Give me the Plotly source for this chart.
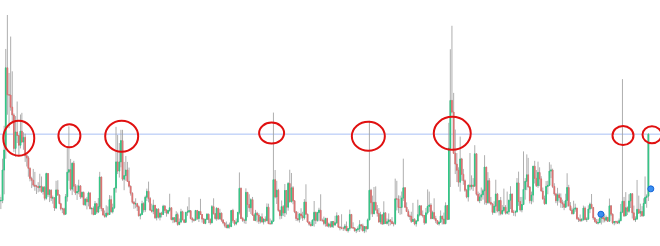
import pandas as pd
import plotly.graph_objects as go

# Half-month VIX-style candles, Aug 2008 .. early Apr 2025
month_starts = pd.date_range("2008-08-01", "2025-04-01", freq="MS")
periods = [d + pd.Timedelta(days=k) for d in month_starts for k in (7, 22)][:-1]

open_ = [
    22.9, 20.5, 20.7, 32.0, 39.8, 69.9, 59.9, 59.8, 55.3, 52.4,
    40.0, 46.1, 44.8, 41.2, 46.4, 42.4, 44.1, 37.3, 36.5, 32.6, 28.9, 28.2, 26.4, 26.0, 25.9, 25.5, 26.0, 24.0, 25.6, 21.5, 30.7, 22.9, 24.5, 21.6,
    21.7, 17.9, 24.6, 22.7, 19.5, 17.6, 17.6, 15.6, 22.1, 31.2, 32.1, 24.9, 34.5, 26.0, 23.5, 24.0, 26.1, 22.0, 23.7, 19.1, 21.2, 20.2, 23.5, 17.6,
    17.8, 15.5, 19.5, 16.4, 18.4, 29.4, 17.7, 15.3, 14.8, 16.0, 15.5, 21.0, 16.5, 18.0, 25.3, 35.0, 31.6, 35.0, 42.9, 28.6, 29.9, 32.0, 27.8, 26.0,
    23.4, 20.0, 19.4, 19.5, 18.4, 15.0, 15.5, 19.5, 17.2, 21.9, 24.1, 21.4, 17.1, 16.7, 18.9, 14.3, 17.5, 14.5, 16.0, 15.5, 18.6, 17.0, 16.0, 17.0,
    18.0, 13.6, 14.3, 12.8, 15.5, 11.8, 12.7, 16.5, 13.5, 12.6, 16.3, 16.5, 16.9, 14.0, 13.5, 13.4, 17.0, 14.0, 16.6, 15.5, 13.8, 12.2, 13.7, 15.6,
    13.7, 12.4, 18.4, 15.8, 14.0, 17.8, 13.9, 16.0, 13.4, 12.4, 11.4, 10.6, 11.6, 11.0, 17.0, 13.2, 12.0, 12.7, 16.3, 25.2, 14.0, 13.3, 13.3, 23.7,
    19.2, 18.0, 21.0, 15.3, 13.3, 16.0, 15.3, 13.0, 14.6, 12.7, 13.8, 13.2, 18.2, 12.1, 12.1, 13.0, 28.4, 22.0, 24.5, 17.0, 15.1, 18.4, 16.1, 24.4,
    18.2, 27.0, 20.2, 25.4, 20.6, 16.5, 14.0, 13.6, 15.7, 15.0, 14.2, 20.1, 15.6, 12.7, 11.9, 11.4, 13.4, 16.3, 13.3, 16.2, 17.1, 13.3, 13.3, 12.2,
    14.0, 11.2, 12.0, 11.0, 12.9, 11.6, 12.4, 15.0, 10.8, 10.6, 10.4, 10.4, 11.2, 9.5, 10.3, 15.5, 10.6, 10.5, 9.5, 9.9, 10.2, 11.7, 11.3, 9.4,
    11.0, 10.2, 13.5, 24.5, 19.9, 15.8, 20.0, 17.2, 15.9, 12.7, 15.4, 12.0, 16.1, 12.2, 12.8, 13.5, 12.9, 12.1, 12.1, 21.3, 21.2, 18.1, 18.1, 21.6,
    25.4, 18.2, 16.6, 14.9, 14.8, 12.9, 13.7, 12.0, 13.1, 15.4, 18.7, 15.3, 15.1, 12.4, 16.1, 18.5, 19.0, 14.0, 16.2, 14.0, 13.2, 12.0, 12.6, 14.9,
    13.8, 12.1, 18.8, 13.7, 40.1, 57.8, 53.5, 38.2, 34.2, 31.9, 27.5, 36.1, 30.4, 28.0, 24.5, 22.0, 26.4, 25.8, 26.4, 26.0, 38.0, 23.0, 20.6, 22.0,
    22.8, 24.3, 33.1, 19.9, 28.0, 20.0, 19.4, 16.3, 18.6, 23.1, 16.8, 20.7, 15.8, 17.0, 18.2, 16.0, 16.5, 20.8, 23.1, 16.3, 16.3, 16.5, 27.2, 20.3,
    17.2, 19.2, 24.8, 27.8, 30.2, 25.7, 20.6, 22.7, 33.4, 28.9, 26.2, 31.1, 28.7, 24.2, 21.3, 19.5, 25.9, 26.3, 31.6, 32.0, 25.9, 23.1, 20.6, 22.8,
    21.7, 19.9, 19.4, 18.2, 20.7, 25.5, 18.7, 17.1, 15.8, 17.5, 17.9, 14.0, 13.6, 13.3, 13.6, 17.9, 13.6, 13.8, 17.5, 19.3, 18.1, 14.2, 12.9, 12.3,
    12.5, 14.1, 14.4, 14.0, 13.4, 14.4, 13.0, 18.7, 15.6, 12.4, 12.9, 12.7, 12.4, 13.2, 16.4, 20.4, 15.0, 18.0, 16.7, 20.5, 23.2, 16.1, 13.5, 13.8,
    17.4, 16.0, 16.6, 15.0, 19.6, 21.8, 22.3,
]
high = [
    24.0, 22.0, 36.2, 48.4, 76.9, 89.5, 68.0, 81.5, 68.6, 53.0,
    52.0, 57.4, 45.0, 52.6, 53.2, 46.0, 45.5, 38.0, 37.2, 33.0, 29.5, 32.4, 31.3, 26.5, 27.5, 30.6, 29.6, 26.0, 26.0, 31.0, 30.8, 24.9, 24.8, 22.5,
    21.8, 28.0, 28.2, 23.0, 19.8, 18.0, 18.0, 23.1, 40.7, 48.2, 36.1, 34.8, 35.4, 26.8, 26.5, 28.4, 26.4, 24.0, 24.0, 21.5, 22.0, 24.0, 23.6, 18.0,
    18.5, 20.5, 19.8, 21.6, 31.3, 29.5, 17.8, 17.0, 18.9, 18.5, 22.7, 22.5, 19.5, 25.3, 48.0, 45.0, 42.0, 46.9, 46.9, 35.0, 37.2, 35.0, 32.9, 26.2,
    23.7, 20.5, 21.5, 19.8, 18.9, 16.0, 20.6, 20.0, 22.5, 25.1, 27.7, 22.0, 19.5, 21.0, 19.0, 17.8, 17.8, 16.2, 16.5, 19.1, 19.0, 17.5, 17.2, 23.2,
    18.0, 14.4, 14.5, 16.7, 16.2, 14.0, 17.6, 16.9, 13.6, 16.3, 18.5, 21.9, 17.0, 14.5, 14.0, 17.1, 17.1, 16.8, 21.3, 15.6, 14.2, 13.8, 16.0, 15.8,
    14.0, 19.0, 21.5, 16.0, 18.2, 17.9, 17.6, 16.2, 13.8, 12.5, 12.9, 12.0, 12.5, 17.1, 17.6, 13.4, 14.0, 16.3, 31.1, 25.5, 14.6, 13.9, 25.2, 23.8,
    23.0, 21.5, 22.0, 15.6, 17.2, 16.5, 16.0, 14.8, 15.9, 14.0, 14.8, 19.6, 19.5, 14.0, 13.5, 53.3, 32.0, 28.0, 25.0, 17.3, 20.7, 19.0, 26.8, 24.5,
    27.5, 32.1, 30.9, 26.0, 20.6, 16.8, 16.5, 16.0, 17.8, 16.5, 21.2, 26.7, 15.8, 13.0, 12.8, 13.7, 20.5, 16.5, 16.5, 18.0, 23.0, 14.0, 14.7, 14.3,
    14.3, 12.5, 13.0, 13.0, 13.0, 15.0, 16.3, 15.2, 11.2, 15.6, 11.0, 12.0, 12.9, 10.5, 17.3, 15.7, 12.6, 10.6, 10.2, 11.1, 13.4, 12.0, 12.1, 11.2,
    11.0, 14.0, 50.3, 25.0, 22.5, 25.7, 25.9, 19.0, 17.9, 16.5, 15.5, 20.4, 16.2, 14.0, 15.9, 13.7, 14.5, 12.8, 28.8, 28.0, 22.6, 22.5, 24.0, 36.2,
    25.6, 20.0, 17.4, 15.5, 16.5, 19.8, 14.1, 13.4, 21.0, 18.9, 18.9, 17.0, 15.3, 17.9, 24.8, 24.0, 19.7, 16.9, 21.5, 15.0, 13.3, 13.0, 17.0, 15.0,
    16.2, 20.0, 19.0, 49.5, 76.8, 85.5, 60.6, 47.0, 38.3, 33.0, 44.4, 36.5, 32.4, 28.5, 25.0, 26.5, 38.3, 30.0, 29.0, 41.2, 38.2, 24.0, 23.5, 25.5,
    25.0, 37.5, 33.1, 31.2, 29.0, 22.0, 19.8, 20.4, 28.4, 23.5, 20.7, 22.0, 19.0, 25.1, 19.0, 24.0, 20.9, 26.0, 23.2, 17.2, 17.0, 29.0, 31.4, 22.0,
    22.0, 38.9, 29.0, 37.8, 36.5, 26.0, 24.0, 33.5, 35.4, 32.0, 35.1, 33.0, 29.7, 25.5, 22.5, 27.9, 28.0, 34.9, 34.0, 32.5, 27.1, 23.5, 25.4, 23.5,
    23.3, 21.0, 20.5, 23.2, 30.8, 26.5, 20.1, 18.0, 20.6, 19.5, 17.9, 14.5, 15.5, 14.2, 18.8, 18.5, 14.5, 18.9, 19.9, 23.1, 18.2, 14.5, 13.8, 13.8,
    15.0, 14.8, 16.2, 15.8, 15.1, 14.5, 21.4, 19.0, 15.9, 13.0, 13.2, 13.2, 14.0, 19.4, 65.7, 22.0, 23.8, 18.5, 23.0, 23.3, 23.3, 18.8, 14.8, 28.3,
    22.5, 19.5, 18.6, 21.5, 29.6, 23.0, 45.6,
]
low = [
    19.0, 17.5, 19.7, 23.0, 36.2, 52.5, 47.5, 54.0, 50.0, 38.7,
    36.9, 42.0, 37.5, 40.0, 42.0, 39.5, 35.0, 33.3, 29.5, 27.8, 25.3, 25.8, 24.3, 23.1, 23.7, 24.0, 23.5, 22.9, 20.7, 21.0, 22.0, 20.1, 20.5, 19.5,
    16.8, 17.5, 22.5, 19.5, 17.0, 16.0, 15.2, 15.5, 20.3, 28.0, 24.3, 22.7, 24.0, 22.7, 20.9, 23.0, 21.3, 21.5, 19.0, 18.6, 17.4, 18.5, 17.5, 15.5,
    15.2, 15.5, 15.7, 16.0, 17.5, 16.7, 15.2, 14.3, 14.3, 15.0, 15.3, 16.2, 15.9, 17.5, 23.6, 30.5, 29.2, 33.0, 28.0, 24.5, 28.0, 27.6, 25.5, 22.5,
    19.5, 17.6, 17.8, 16.8, 14.8, 13.7, 15.4, 16.2, 16.4, 20.5, 20.0, 17.0, 16.2, 15.6, 13.9, 13.3, 14.0, 13.3, 14.4, 15.3, 16.0, 14.7, 15.6, 16.5,
    13.4, 12.3, 12.5, 12.8, 11.3, 11.5, 12.3, 13.4, 12.3, 12.4, 15.0, 16.0, 13.7, 12.5, 12.9, 13.3, 13.5, 12.7, 15.3, 12.5, 12.0, 11.9, 13.5, 12.3,
    11.7, 12.3, 15.5, 13.6, 13.2, 13.5, 13.7, 12.8, 11.9, 10.7, 10.5, 10.3, 10.3, 10.9, 12.4, 11.4, 11.5, 12.5, 15.5, 14.0, 12.7, 12.2, 12.0, 14.5,
    16.5, 15.7, 15.0, 13.2, 13.0, 12.6, 12.0, 12.2, 12.6, 11.8, 12.6, 13.0, 12.0, 11.8, 11.8, 12.8, 21.5, 19.4, 16.5, 13.7, 13.9, 14.9, 14.6, 15.5,
    16.9, 20.0, 20.0, 19.3, 16.0, 13.1, 13.0, 12.5, 14.0, 13.1, 13.6, 15.5, 12.5, 11.3, 11.0, 11.2, 11.0, 12.0, 12.8, 13.0, 13.0, 12.7, 11.5, 11.0,
    11.0, 10.6, 10.6, 10.6, 10.6, 11.2, 12.0, 10.6, 9.6, 10.0, 9.4, 9.6, 9.5, 8.8, 9.5, 10.4, 10.2, 9.1, 8.6, 9.1, 9.0, 9.6, 9.3, 8.6,
    8.9, 10.0, 13.4, 15.5, 14.6, 15.6, 17.0, 14.7, 12.5, 11.9, 11.6, 11.9, 12.0, 11.8, 11.2, 11.5, 12.0, 11.1, 11.6, 17.0, 16.0, 15.4, 15.6, 20.5,
    18.0, 16.5, 14.5, 13.5, 12.4, 12.8, 11.5, 11.0, 12.9, 14.8, 15.0, 14.4, 11.7, 12.0, 15.5, 16.5, 13.7, 13.8, 13.5, 12.3, 11.7, 11.4, 12.5, 11.8,
    11.8, 11.9, 13.4, 13.5, 25.7, 53.0, 38.0, 30.5, 27.5, 25.8, 24.0, 28.0, 26.5, 23.9, 21.5, 20.3, 24.4, 24.8, 24.2, 25.8, 22.5, 20.4, 19.7, 20.5,
    21.0, 19.2, 19.0, 19.5, 19.5, 18.9, 15.4, 16.0, 16.0, 16.3, 15.1, 15.2, 15.4, 16.5, 15.5, 15.6, 15.4, 17.5, 16.3, 15.0, 14.8, 16.2, 18.7, 16.6,
    16.3, 19.0, 21.0, 24.5, 25.5, 19.6, 19.3, 20.0, 27.0, 25.7, 25.4, 26.0, 24.0, 21.0, 19.1, 19.3, 23.0, 26.0, 29.0, 25.3, 22.5, 19.7, 18.8, 19.9,
    18.0, 17.9, 17.1, 18.0, 18.4, 18.5, 17.0, 15.5, 15.6, 16.5, 13.5, 12.7, 12.7, 12.8, 13.2, 13.4, 12.7, 13.5, 16.0, 17.5, 13.5, 12.5, 12.0, 11.8,
    12.3, 11.8, 12.5, 12.6, 13.0, 12.7, 12.9, 14.9, 11.9, 11.5, 11.9, 12.0, 11.9, 13.0, 16.0, 14.6, 15.0, 15.3, 16.1, 17.9, 14.0, 13.4, 12.7, 13.7,
    15.8, 14.6, 14.7, 14.8, 19.5, 18.0, 20.5,
]
close = [
    20.5, 20.7, 32.0, 39.4, 69.9, 59.9, 59.8, 55.3, 52.4, 40.0,
    46.1, 44.8, 41.2, 46.4, 42.4, 44.1, 37.3, 36.5, 32.6, 28.9, 28.2, 26.4, 26.0, 25.9, 25.5, 26.0, 24.0, 25.6, 21.5, 30.7, 22.9, 24.5, 21.6, 21.7,
    17.9, 24.6, 22.7, 19.5, 17.6, 17.6, 15.6, 22.1, 31.2, 32.1, 24.9, 34.5, 26.0, 23.5, 24.0, 26.1, 22.0, 23.7, 19.1, 21.2, 20.2, 23.5, 17.6, 17.8,
    15.5, 19.5, 16.4, 18.4, 29.4, 17.7, 15.3, 14.8, 16.0, 15.5, 21.0, 16.5, 18.0, 25.3, 35.0, 31.6, 35.0, 42.9, 28.6, 29.9, 32.0, 27.8, 26.0, 23.4,
    20.0, 19.4, 19.5, 18.4, 15.0, 15.5, 19.5, 17.2, 21.9, 24.1, 21.4, 17.1, 16.7, 18.9, 14.3, 17.5, 14.5, 16.0, 15.5, 18.6, 17.0, 16.0, 17.0, 18.0,
    13.6, 14.3, 12.8, 15.5, 11.8, 12.7, 16.5, 13.5, 12.6, 16.3, 16.5, 16.9, 14.0, 13.5, 13.4, 17.0, 14.0, 16.6, 15.5, 13.8, 12.2, 13.7, 15.6, 13.7,
    12.4, 18.4, 15.8, 14.0, 17.8, 13.9, 16.0, 13.4, 12.4, 11.4, 10.6, 11.6, 11.0, 17.0, 13.2, 12.0, 12.7, 16.3, 25.2, 14.0, 13.3, 13.3, 23.7, 19.2,
    18.0, 21.0, 15.3, 13.3, 16.0, 15.3, 13.0, 14.6, 12.7, 13.8, 13.2, 18.2, 12.1, 12.1, 13.0, 28.4, 22.0, 24.5, 17.0, 15.1, 18.4, 16.1, 24.4, 18.2,
    27.0, 20.2, 25.4, 20.6, 16.5, 14.0, 13.6, 15.7, 15.0, 14.2, 20.1, 15.6, 12.7, 11.9, 11.4, 13.4, 16.3, 13.3, 16.2, 17.1, 13.3, 13.3, 12.2, 14.0,
    11.2, 12.0, 11.0, 12.9, 11.6, 12.4, 15.0, 10.8, 10.6, 10.4, 10.4, 11.2, 9.5, 10.3, 15.5, 10.6, 10.5, 9.5, 9.9, 10.2, 11.7, 11.3, 9.4, 11.0,
    10.2, 13.5, 24.5, 19.9, 15.8, 20.0, 17.2, 15.9, 12.7, 15.4, 12.0, 16.1, 12.2, 12.8, 13.5, 12.9, 12.1, 12.1, 21.3, 21.2, 18.1, 18.1, 21.6, 25.4,
    18.2, 16.6, 14.9, 14.8, 12.9, 13.7, 12.0, 13.1, 15.4, 18.7, 15.3, 15.1, 12.4, 16.1, 18.5, 19.0, 14.0, 16.2, 14.0, 13.2, 12.0, 12.6, 14.9, 13.8,
    12.1, 18.8, 13.7, 40.1, 57.8, 53.5, 38.2, 34.2, 31.9, 27.5, 36.1, 30.4, 28.0, 24.5, 22.0, 26.4, 25.8, 26.4, 26.0, 38.0, 23.0, 20.6, 22.0, 22.8,
    24.3, 33.1, 19.9, 28.0, 20.0, 19.4, 16.3, 18.6, 23.1, 16.8, 20.7, 15.8, 17.0, 18.2, 16.0, 16.5, 20.8, 23.1, 16.3, 16.3, 16.5, 27.2, 20.3, 17.2,
    19.2, 24.8, 27.8, 30.2, 25.7, 20.6, 22.7, 33.4, 28.9, 26.2, 31.1, 28.7, 24.2, 21.3, 19.5, 25.9, 26.3, 31.6, 32.0, 25.9, 23.1, 20.6, 22.8, 21.7,
    19.9, 19.4, 18.2, 20.7, 25.5, 18.7, 17.1, 15.8, 17.5, 17.9, 14.0, 13.6, 13.3, 13.6, 17.9, 13.6, 13.8, 17.5, 19.3, 18.1, 14.2, 12.9, 12.3, 12.5,
    14.1, 14.4, 14.0, 13.4, 14.4, 13.0, 18.7, 15.6, 12.4, 12.9, 12.7, 12.4, 13.2, 16.4, 20.4, 15.0, 18.0, 16.7, 20.5, 23.2, 16.1, 13.5, 13.8, 17.4,
    16.0, 16.6, 15.0, 19.6, 21.8, 22.3, 45.3,
]

threshold_level = 45.3

circle_dates = ["2009-02-07", "2010-05-28", "2011-09-30", "2015-08-06",
                "2018-01-29", "2020-03-26", "2024-08-13", "2025-05-12"]
circle_levels = [43.8, 44.7, 44.5, 45.7, 44.5, 45.6, 44.8, 45.1]

dot_dates = ["2024-01-19", "2025-05-01"]
dot_values = [15.6, 25.0]

# circle sizes in pixels (style)
circle_w = [31, 22, 33, 25, 33, 37, 21, 19]
circle_h = [35, 23, 31, 21, 29, 33, 19, 17]

body_hi = [max(o, c) for o, c in zip(open_, close)]
body_lo = [min(o, c) for o, c in zip(open_, close)]

fig = go.Figure()
# wicks (grey)
fig.add_trace(go.Candlestick(
    x=periods, open=open_, high=high, low=low, close=close,
    increasing=dict(line=dict(color="rgba(160,160,160,0.85)", width=1),
                    fillcolor="rgba(160,160,160,0.85)"),
    decreasing=dict(line=dict(color="rgba(160,160,160,0.85)", width=1),
                    fillcolor="rgba(160,160,160,0.85)"),
    whiskerwidth=0, hoverinfo="skip",
))
# bodies (green / red)
fig.add_trace(go.Candlestick(
    x=periods, open=open_, high=body_hi, low=body_lo, close=close,
    increasing=dict(line=dict(color="rgba(40,200,130,0.85)", width=1),
                    fillcolor="rgba(70,215,150,0.7)"),
    decreasing=dict(line=dict(color="rgba(228,105,105,0.8)", width=1),
                    fillcolor="rgba(240,145,145,0.65)"),
    whiskerwidth=0,
))
fig.add_trace(go.Scatter(
    x=dot_dates, y=dot_values, mode="markers",
    marker=dict(size=6, color="#3a8ff0", line=dict(color="#1565d8", width=1)),
))

shapes = [dict(type="line", xref="paper", yref="y", x0=0, x1=1,
               y0=threshold_level, y1=threshold_level,
               line=dict(color="#a9c0f5", width=1), layer="below")]
for d, lv, w, h in zip(circle_dates, circle_levels, circle_w, circle_h):
    shapes.append(dict(type="circle", xref="x", yref="y",
                       xsizemode="pixel", ysizemode="pixel",
                       xanchor=d, yanchor=lv,
                       x0=-w / 2, x1=w / 2, y0=-h / 2, y1=h / 2,
                       line=dict(color="#e01010", width=2)))

fig.update_layout(
    width=660, height=246,
    margin=dict(l=0, r=0, t=0, b=0),
    paper_bgcolor="white", plot_bgcolor="white",
    showlegend=False,
    shapes=shapes,
    xaxis=dict(range=["2008-08-15", "2025-07-26"], rangeslider=dict(visible=False),
               showgrid=False, zeroline=False, showticklabels=False, showline=False),
    yaxis=dict(range=[3.81, 95.06], showgrid=False, zeroline=False,
               showticklabels=False, showline=False),
)

fig.write_html("out.html")
